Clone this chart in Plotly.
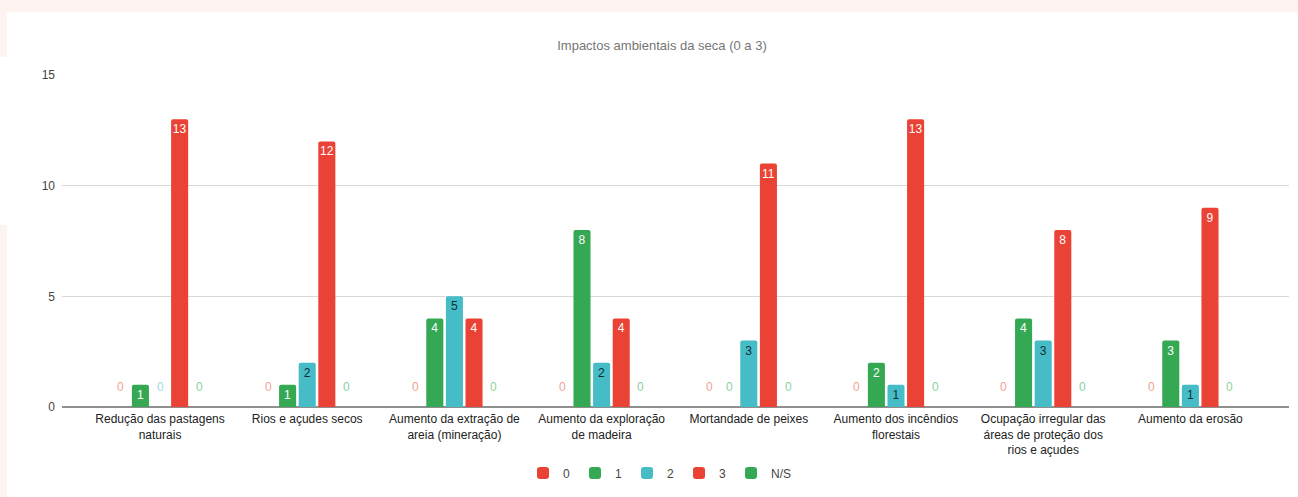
import plotly.graph_objects as go

# Categories (environmental impacts of the drought) and counts per rating
categories = [
    "Redução das pastagens<br>naturais",
    "Rios e açudes secos",
    "Aumento da extração de<br>areia (mineração)",
    "Aumento da exploração<br>de madeira",
    "Mortandade de peixes",
    "Aumento dos incêndios<br>florestais",
    "Ocupação irregular das<br>áreas de proteção dos<br>rios e açudes",
    "Aumento da erosão",
]
series_names = ["0", "1", "2", "3", "N/S"]
values_0 = [0, 0, 0, 0, 0, 0, 0, 0]
values_1 = [1, 1, 4, 8, 0, 2, 4, 3]
values_2 = [0, 2, 5, 2, 3, 1, 3, 1]
values_3 = [13, 12, 4, 4, 11, 13, 8, 9]
values_ns = [0, 0, 0, 0, 0, 0, 0, 0]
y_ticks = [0, 5, 10, 15]

all_values = [values_0, values_1, values_2, values_3, values_ns]
bar_colors = ["#ea4335", "#34a853", "#46bdc6", "#ea4335", "#34a853"]
inside_text_colors = ["#ffffff", "#ffffff", "#0b2f3a", "#ffffff", "#ffffff"]
zero_text_colors = ["#f2a097", "#8ccf9b", "#9ddbe0", "#f2a097", "#8ccf9b"]

FONT = "Liberation Sans, Arial, sans-serif"
BARGAP = 0.334
x_pos = list(range(len(categories)))

fig = go.Figure()
for k, (name, vals) in enumerate(zip(series_names, all_values)):
    fig.add_trace(go.Bar(
        name=name,
        x=x_pos,
        y=vals,
        marker=dict(color=bar_colors[k], line=dict(width=0)),
        text=[str(v) if v > 0 else "" for v in vals],
        textposition="inside",
        insidetextanchor="end",
        constraintext="none",
        textangle=0,
        insidetextfont=dict(family=FONT, size=12, color=inside_text_colors[k]),
        hoverinfo="skip",
    ))

# Zero values are labelled just above the baseline in a pale series colour
n = len(series_names)
group_w = 1 - BARGAP
pitch = group_w / n
annotations = []
for k, vals in enumerate(all_values):
    for i, v in enumerate(vals):
        if v == 0:
            annotations.append(dict(
                x=i - group_w / 2 + pitch * (k + 0.5),
                y=v,
                xref="x", yref="y",
                text=str(v),
                showarrow=False,
                yshift=20,
                font=dict(family=FONT, size=12, color=zero_text_colors[k]),
            ))

# Pale pink page frame along the top and left edges
pink = "#fdf3f1"
shapes = [
    dict(type="rect", xref="paper", yref="paper", xsizemode="pixel", ysizemode="pixel",
         xanchor=0, yanchor=1, x0=-62, x1=1236, y0=75, y1=63,
         fillcolor=pink, line=dict(width=0), layer="below"),
    dict(type="rect", xref="paper", yref="paper", xsizemode="pixel", ysizemode="pixel",
         xanchor=0, yanchor=1, x0=-62, x1=-55, y0=75, y1=18,
         fillcolor=pink, line=dict(width=0), layer="below"),
    dict(type="rect", xref="paper", yref="paper", xsizemode="pixel", ysizemode="pixel",
         xanchor=0, yanchor=1, x0=-62, x1=-55, y0=-150, y1=-422,
         fillcolor=pink, line=dict(width=0), layer="below"),
]

fig.update_layout(
    width=1298,
    height=497,
    margin=dict(l=62, r=9, t=75, b=90),
    paper_bgcolor="#ffffff",
    plot_bgcolor="#ffffff",
    barmode="group",
    bargap=BARGAP,
    bargroupgap=0.13,
    barcornerradius=2,
    title=dict(
        text="Impactos ambientais da seca (0 a 3)",
        x=662 / 1298, xref="container", xanchor="center",
        y=1 - 45 / 497, yref="container", yanchor="middle",
        font=dict(family=FONT, size=13, color="#757575"),
    ),
    xaxis=dict(
        tickmode="array",
        tickvals=x_pos,
        ticktext=categories,
        range=[-0.666, 7.67],
        showgrid=False,
        zeroline=False,
        showline=False,
        ticks="",
        automargin=False,
        ticklabelstandoff=3,
        tickfont=dict(family=FONT, size=12, color="#222222"),
        fixedrange=True,
    ),
    yaxis=dict(
        range=[0, 15],
        tickvals=y_ticks,
        showgrid=True,
        gridcolor="#d9d9d9",
        gridwidth=1,
        zeroline=True,
        zerolinecolor="#8f8f8f",
        zerolinewidth=2,
        showline=False,
        ticks="",
        automargin=False,
        ticklabelstandoff=6,
        tickfont=dict(family=FONT, size=12, color="#444444"),
        fixedrange=True,
    ),
    legend=dict(
        orientation="h",
        x=660 / 1298, xref="container", xanchor="center",
        y=1 - 473 / 497, yref="container", yanchor="middle",
        font=dict(family=FONT, size=12, color="#444444"),
        itemwidth=30,
        traceorder="normal",
    ),
    annotations=annotations,
    shapes=shapes,
    showlegend=True,
)

fig.write_html("out.html")
